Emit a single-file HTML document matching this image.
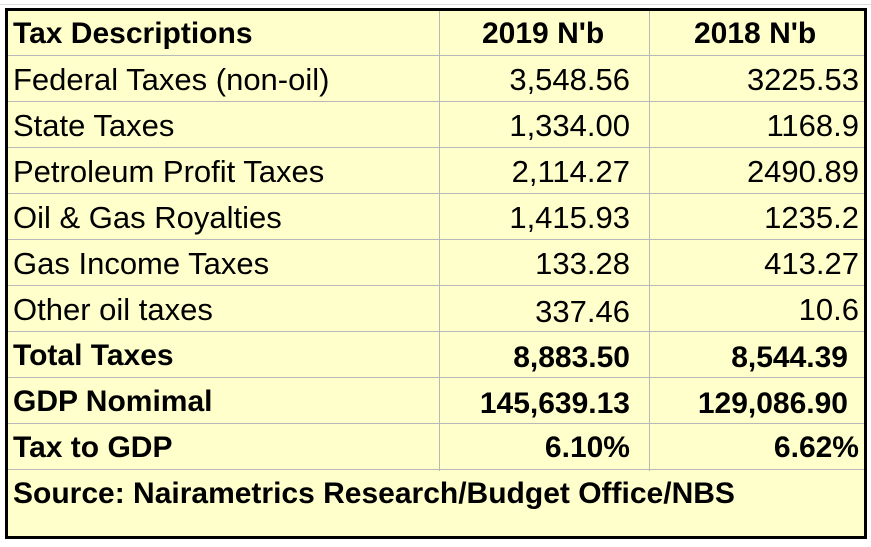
<!DOCTYPE html>
<html><head><style>
body{margin:0;width:871px;height:547px;background:#fff;position:relative;overflow:hidden;font-family:"Liberation Sans",sans-serif;}
.box{position:absolute;left:5px;top:8px;width:856px;height:525px;border:3px solid #000;background:#FFFFCC;}
.h{position:absolute;left:0;width:856px;height:1px;background:#b8b8b8;}
.v{position:absolute;width:1px;background:#b8b8b8;top:0;height:460px;}
.c{position:absolute;font-size:31px;line-height:46px;height:46px;white-space:nowrap;color:#000;}
.b{font-weight:bold;font-size:30px;}
.l{left:5px;}
.r1{right:234px;text-align:right;}
.r2{right:5px;text-align:right;}
.g{position:absolute;background:#ddd;}
</style></head><body>
<div class="g" style="left:0;top:0;width:871px;height:1px;top:4px"></div>
<div class="box">
<div class="v" style="left:431px"></div>
<div class="v" style="left:641px"></div>
<div class="h" style="top:44px"></div>
<div class="h" style="top:90px"></div>
<div class="h" style="top:136px"></div>
<div class="h" style="top:182px"></div>
<div class="h" style="top:228px"></div>
<div class="h" style="top:274px"></div>
<div class="h" style="top:320px"></div>
<div class="h" style="top:366px"></div>
<div class="h" style="top:412px"></div>
<div class="h" style="top:458px"></div>

<div class="c b l" style="top:0">Tax Descriptions</div>
<div class="c b" style="top:0;left:474px">2019 N'b</div>
<div class="c b" style="top:0;left:686px">2018 N'b</div>

<div class="c l" style="top:46px">Federal Taxes (non-oil)</div>
<div class="c r1" style="top:46px">3,548.56</div>
<div class="c r2" style="top:46px">3225.53</div>

<div class="c l" style="top:92px">State Taxes</div>
<div class="c r1" style="top:92px">1,334.00</div>
<div class="c r2" style="top:92px">1168.9</div>

<div class="c l" style="top:138px">Petroleum Profit Taxes</div>
<div class="c r1" style="top:138px">2,114.27</div>
<div class="c r2" style="top:138px">2490.89</div>

<div class="c l" style="top:184px">Oil &amp; Gas Royalties</div>
<div class="c r1" style="top:184px">1,415.93</div>
<div class="c r2" style="top:184px">1235.2</div>

<div class="c l" style="top:230px">Gas Income Taxes</div>
<div class="c r1" style="top:230px">133.28</div>
<div class="c r2" style="top:230px">413.27</div>

<div class="c l" style="top:276px">Other oil taxes</div>
<div class="c r1" style="top:278px">337.46</div>
<div class="c r2" style="top:276px">10.6</div>

<div class="c b l" style="top:322px">Total Taxes</div>
<div class="c b r1" style="top:324px">8,883.50</div>
<div class="c b r2" style="top:324px;right:16px">8,544.39</div>

<div class="c b l" style="top:368px">GDP Nomimal</div>
<div class="c b r1" style="top:370px">145,639.13</div>
<div class="c b r2" style="top:370px;right:16px">129,086.90</div>

<div class="c b l" style="top:414px">Tax to GDP</div>
<div class="c b r1" style="top:414px">6.10%</div>
<div class="c b r2" style="top:414px">6.62%</div>

<div class="c b l" style="top:460px">Source: Nairametrics Research/Budget Office/NBS</div>
</div>
</body></html>
